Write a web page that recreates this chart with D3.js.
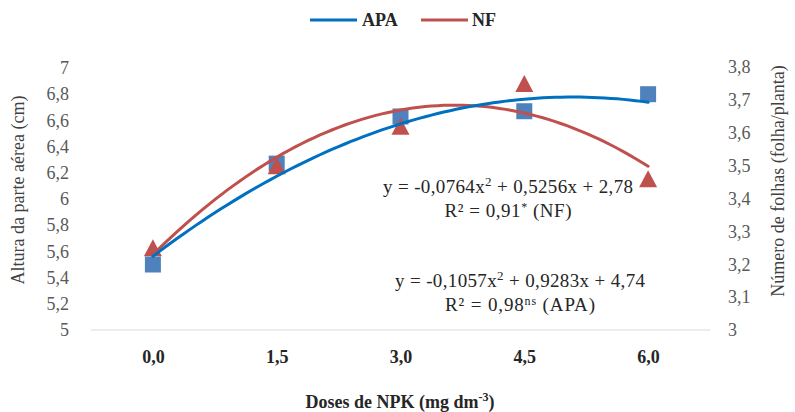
<!DOCTYPE html>
<html>
<head>
<meta charset="utf-8">
<script src="https://cdn.jsdelivr.net/npm/d3@7"></script>
</head>
<body style="margin:0">
<svg id="chart" width="795" height="412" font-family="Liberation Serif" style="display:block;font-family:'Liberation Serif'"></svg>
<script>
// NPK doses (categories on the x axis)
const doses = ["0,0", "1,5", "3,0", "4,5", "6,0"];
// Plant height (cm), left axis
const apaValues = [5.50, 6.27, 6.63, 6.67, 6.80];
// Leaf number (leaves/plant), right axis
const nfValues = [3.25, 3.50, 3.62, 3.75, 3.46];
// Quadratic fits (a, b, c for a*x^2 + b*x + c, x = 1..5)
const apaFit = [-0.1057, 0.9283, 4.74];
const nfFit = [-0.0764, 0.5256, 2.78];
// Axis ticks
const leftTicks = [5, 5.2, 5.4, 5.6, 5.8, 6, 6.2, 6.4, 6.6, 6.8, 7];
const rightTicks = [3, 3.1, 3.2, 3.3, 3.4, 3.5, 3.6, 3.7, 3.8];

const FONT = "Liberation Serif";
const svg = d3.select("#chart");
const fmt = v => String(+v.toFixed(1)).replace(".", ",");

const plotLeft = 91, plotRight = 710, plotTop = 68, plotBottom = 330;

const x = d3.scalePoint().domain(doses).range([plotLeft, plotRight]).padding(0.5);
const xFit = d3.scaleLinear().domain([1, doses.length]).range([x(doses[0]), x(doses[doses.length - 1])]);
const yL = d3.scaleLinear().domain([5, 7]).range([plotBottom, plotTop]);
const yR = d3.scaleLinear().domain([3, 3.8]).range([plotBottom, plotTop - 1]);

// Baseline
svg.append("line")
  .attr("x1", plotLeft).attr("x2", plotRight)
  .attr("y1", plotBottom).attr("y2", plotBottom)
  .attr("stroke", "#d9d9d9").attr("stroke-width", 1);

// Left axis
const leftAxis = svg.append("g").attr("transform", `translate(${plotLeft - 22},0)`)
  .call(d3.axisLeft(yL).tickValues(leftTicks).tickFormat(fmt).tickSize(0).tickPadding(0));
leftAxis.attr("font-family", FONT);
leftAxis.select(".domain").remove();
leftAxis.selectAll("text").attr("font-size", 18).attr("fill", "#595959");

// Right axis
const rightAxis = svg.append("g").attr("transform", `translate(${plotRight + 18},0)`)
  .call(d3.axisRight(yR).tickValues(rightTicks).tickFormat(fmt).tickSize(0).tickPadding(0));
rightAxis.attr("font-family", FONT);
rightAxis.select(".domain").remove();
rightAxis.selectAll("text").attr("font-size", 18).attr("fill", "#595959");

// Bottom axis labels
const bottomAxis = svg.append("g").attr("transform", `translate(0,${plotBottom + 20})`)
  .call(d3.axisBottom(x).tickSize(0).tickPadding(0));
bottomAxis.attr("font-family", FONT);
bottomAxis.select(".domain").remove();
bottomAxis.selectAll("text").attr("font-size", 18).attr("font-weight", "bold").attr("fill", "#262626");

// Axis titles
svg.append("text")
  .attr("transform", "translate(24,190) rotate(-90)")
  .attr("text-anchor", "middle").attr("font-size", 18).attr("fill", "#404040")
  .text("Altura da parte aérea (cm)");

svg.append("text")
  .attr("transform", "translate(784,181) rotate(-90)")
  .attr("text-anchor", "middle").attr("font-size", 18).attr("fill", "#404040")
  .text("Número de folhas (folha/planta)");

const xTitle = svg.append("text")
  .attr("x", 400).attr("y", 408).attr("text-anchor", "middle")
  .attr("font-size", 18).attr("font-weight", "bold").attr("fill", "#262626");
xTitle.append("tspan").text("Doses de NPK (mg dm");
xTitle.append("tspan").attr("font-size", 12).attr("dy", -7).text("-3");
xTitle.append("tspan").attr("dy", 7).text(")");

// Markers: APA squares
const sq = 16;
svg.append("g").selectAll("rect").data(apaValues).join("rect")
  .attr("x", (d, i) => x(doses[i]) - sq / 2)
  .attr("y", d => yL(d) - sq / 2)
  .attr("width", sq).attr("height", sq)
  .attr("fill", "#4f81bd");

// Markers: NF triangles (centred on their bounding box)
const triPath = "M0,-8.5L9,8.5L-9,8.5Z";
svg.append("g").selectAll("path").data(nfValues).join("path")
  .attr("d", triPath)
  .attr("transform", (d, i) => `translate(${x(doses[i])},${yR(d)})`)
  .attr("fill", "#c0504d");

// Trend curves from the fitted equations
const evalFit = (c, t) => c[0] * t * t + c[1] * t + c[2];
const ts = d3.range(1, doses.length + 0.0001, 0.05);

const nfLine = d3.line().x(t => xFit(t)).y(t => yR(evalFit(nfFit, t)));
svg.append("path").datum(ts).attr("d", nfLine)
  .attr("fill", "none").attr("stroke", "#c0504d").attr("stroke-width", 3).attr("stroke-linecap", "round");

const apaLine = d3.line().x(t => xFit(t)).y(t => yL(evalFit(apaFit, t)));
svg.append("path").datum(ts).attr("d", apaLine)
  .attr("fill", "none").attr("stroke", "#0070c0").attr("stroke-width", 3).attr("stroke-linecap", "round");

// Equation labels
function equation(cx, cy, coef, r2, sup, tag, w1, w2) {
  const t1 = svg.append("text").attr("x", cx).attr("y", cy).attr("text-anchor", "middle")
    .attr("font-size", 19).attr("fill", "#262626")
    .attr("textLength", w1).attr("lengthAdjust", "spacing");
  t1.append("tspan").text(`y = ${coef[0]}x`);
  t1.append("tspan").attr("font-size", 13).attr("dy", -7).text("2");
  t1.append("tspan").attr("dy", 7).text(` + ${coef[1]}x + ${coef[2]}`);
  const t2 = svg.append("text").attr("x", cx).attr("y", cy + 24).attr("text-anchor", "middle")
    .attr("font-size", 19).attr("fill", "#262626")
    .attr("textLength", w2).attr("lengthAdjust", "spacing");
  t2.append("tspan").text(r2);
  t2.append("tspan").attr("font-size", 12).attr("dy", -6).text(sup);
  t2.append("tspan").attr("dy", 6).text(tag);
}
const fmtC = v => String(v).replace(".", ",");
equation(508, 193, nfFit.map(fmtC), "R² = 0,91", "*", " (NF)", 250, 127);
equation(520, 287, apaFit.map(fmtC), "R² = 0,98", "ns", " (APA)", 250, 150);

// Legend
const legend = svg.append("g");
legend.append("line").attr("x1", 310).attr("x2", 357).attr("y1", 20).attr("y2", 20)
  .attr("stroke", "#0070c0").attr("stroke-width", 3);
legend.append("text").attr("x", 362).attr("y", 26).text("APA");
legend.append("line").attr("x1", 421).attr("x2", 468).attr("y1", 20).attr("y2", 20)
  .attr("stroke", "#c0504d").attr("stroke-width", 3);
legend.append("text").attr("x", 472).attr("y", 26).text("NF");
legend.selectAll("text").attr("font-size", 18).attr("font-weight", "bold").attr("fill", "#262626");

// Serif face for every label
svg.selectAll("text").attr("font-family", FONT).style("font-family", `"${FONT}"`);
</script>
</body>
</html>
